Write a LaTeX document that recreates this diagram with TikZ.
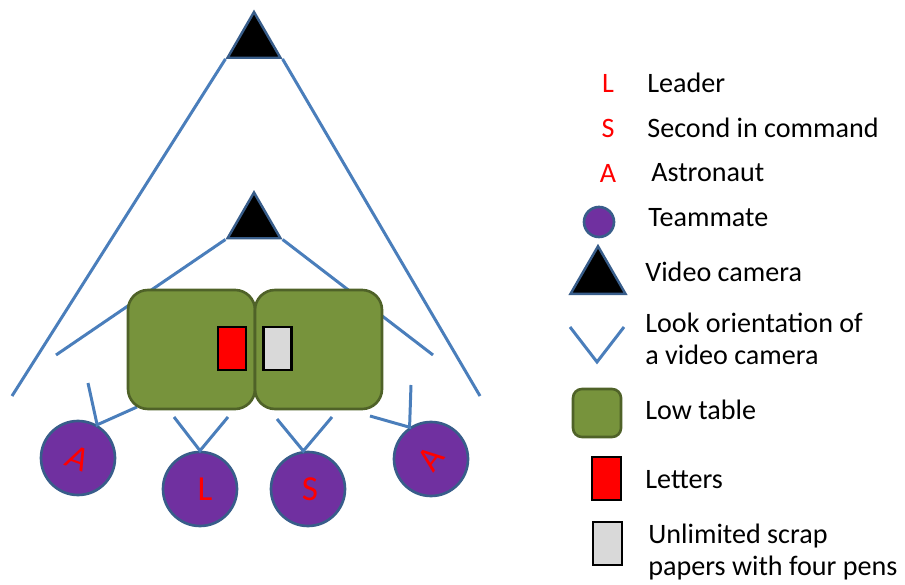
\documentclass[tikz,border=0pt]{standalone}
\usepackage{fontspec}
\setmainfont{Carlito}
\usetikzlibrary{shapes.geometric}
\definecolor{lkblue}{RGB}{74,126,187}
\definecolor{camedge}{RGB}{56,93,138}
\definecolor{matepurple}{RGB}{112,48,160}
\definecolor{tablegreen}{RGB}{119,147,60}
\definecolor{tableedge}{RGB}{79,98,40}
\definecolor{scrapgray}{RGB}{217,217,217}
\tikzset{
    cam/.style={
        regular polygon,regular polygon sides=3,draw=camedge,
        line width=1.4pt,fill=black,inner sep=0pt,minimum size=#1
    },
    cam/.default=1.22cm,
    mate/.style={
        circle,draw=camedge,line width=1.5pt,fill=matepurple,
        inner sep=0pt,minimum size=#1,text=red,
        font=\fontsize{20}{24}\selectfont
    },
    mate/.default=1.48cm,
    lowtable/.style={
        draw=tableedge,line width=1.5pt,fill=tablegreen,
        rounded corners=#1
    },
    lowtable/.default=0.4cm,
    sheet/.style={
        draw=black,line width=1.4pt,fill=#1,
        minimum width=0.56cm,minimum height=0.86cm,inner sep=0pt
    },
    sheet/.default=red,
    look/.style={draw=lkblue,line width=1.7pt},
    legend/.style={anchor=west,align=left,inner sep=0pt},
    tag/.style={text=red,inner sep=0pt}
}

\begin{document}
\begin{tikzpicture}[font=\fontsize{16}{18.5}\selectfont]

\useasboundingbox (0,0) rectangle (18.1,-11.7);

\node[cam](cam1) at (5.08,-0.85){};
\node[cam](cam2) at (5.08,-4.46){};

\node[mate](a1) at (1.56,-9.16){\rotatebox{-20}{\textit{A}}};
\node[mate](lead) at (4.0,-9.78){\hspace{0.2cm}L};
\node[mate](sec) at (6.16,-9.78){\hspace{0.08cm}S};
\node[mate](a2) at (8.62,-9.18){\rotatebox{52}{A}};

\coordinate (cam1l) at (0.24,-7.92);
\coordinate (cam1r) at (9.6,-7.92);
\coordinate (cam2l) at (1.12,-7.1);
\coordinate (cam2r) at (8.66,-7.1);
\coordinate (a1l) at (1.76,-7.66);
\coordinate (a1r) at (2.74,-8.14);
\coordinate (leadl) at (3.48,-8.34);
\coordinate (leadr) at (4.56,-8.34);
\coordinate (secl) at (5.54,-8.38);
\coordinate (secr) at (6.64,-8.34);
\coordinate (a2l) at (7.4,-8.32);
\coordinate (a2r) at (8.22,-7.7);

\draw[look](cam1.corner 2)--(cam1l);
\draw[look](cam1.corner 3)--(cam1r);
\draw[look](cam2.corner 2)--(cam2l);
\draw[look](cam2.corner 3)--(cam2r);
\draw[look](a1l)--(a1.60)--(a1r);
\draw[look](leadl)--(lead.north)--(leadr);
\draw[look](secl)--(sec.97)--(secr);
\draw[look](a2l)--(a2.124)--(a2r);

\node[lowtable,minimum width=2.54cm,minimum height=2.38cm]
(tabl) at (3.83,-6.99){};
\node[lowtable,minimum width=2.54cm,minimum height=2.38cm]
(tabr) at (6.37,-6.99){};

\node[sheet](letters) at (4.64,-6.97){};
\node[sheet=scrapgray](scrap) at (5.55,-6.97){};

\node[tag](kl) at (12.16,-1.66){L};
\node[legend](tl) at (12.94,-1.66){Leader};
\node[tag](ks) at (12.16,-2.56){S};
\node[legend](ts) at (12.94,-2.56){Second in command};
\node[tag](ka) at (12.16,-3.46){A};
\node[legend](ta) at (13.02,-3.46){Astronaut};

\node[mate=0.6cm](kmate) at (11.98,-4.44){};
\node[legend](tmate) at (12.96,-4.36){Teammate};

\node[cam=1.27cm](kcam) at (11.96,-5.56){};
\node[legend](tcam) at (12.9,-5.44){Video camera};

\draw[look](11.4,-6.54)--(11.94,-7.24)--(12.48,-6.54);
\node[legend](tlook) at (12.9,-6.78){Look orientation of\\a video camera};

\node[lowtable=0.18cm,minimum width=0.96cm,minimum height=0.96cm]
(ktab) at (11.94,-8.26){};
\node[legend](ttab) at (12.9,-8.2){Low table};

\node[sheet,minimum width=0.58cm](klet) at (12.13,-9.57){};
\node[legend](tlet) at (12.9,-9.6){Letters};

\node[sheet=scrapgray,minimum width=0.58cm](kscrap) at (12.15,-10.87){};
\node[legend](tscrap) at (12.96,-11.04){Unlimited scrap\\papers with four pens};

\end{tikzpicture}
\end{document}
